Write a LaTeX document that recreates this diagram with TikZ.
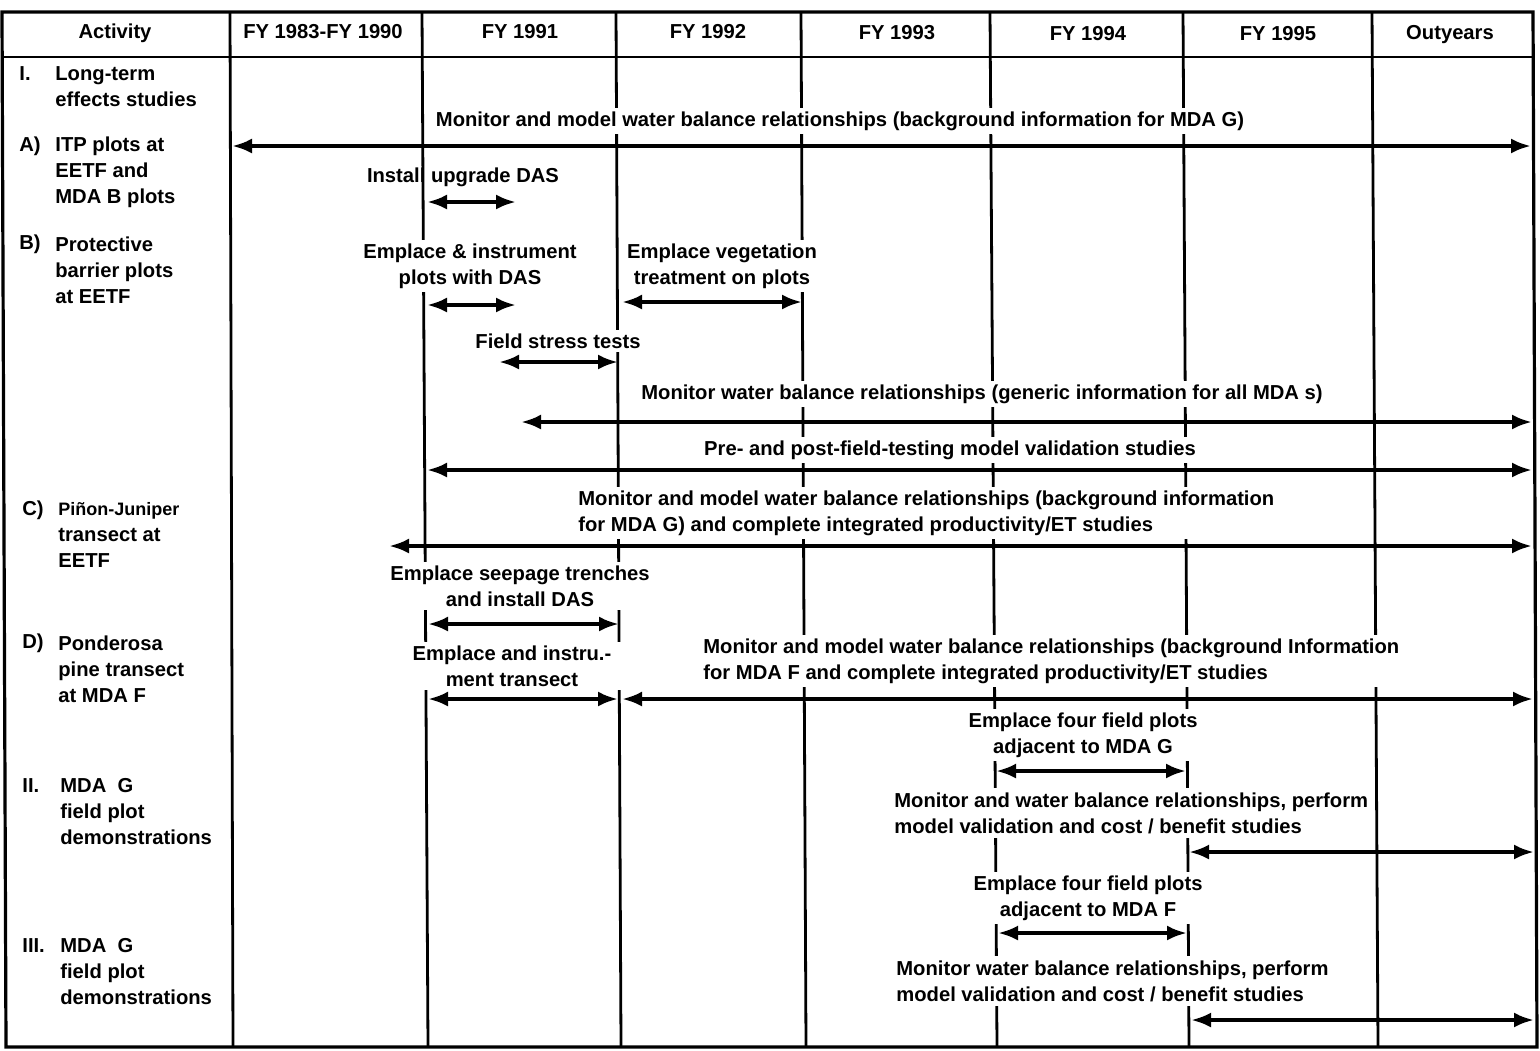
\documentclass[tikz,border=0pt]{standalone}
\usepackage{fontspec}
\newfontfamily\chartfont{Liberation Sans}
\usetikzlibrary{arrows.meta}
\tikzset{
  frame/.style ={line width=1.6pt},
  rule/.style  ={line width=1.4pt},
  act/.style   ={anchor=west, align=left, inner sep=0pt},
  lbl/.style   ={fill=white, inner sep=2pt, align=center},
  lbll/.style  ={fill=white, inner sep=2pt, align=left, anchor=west},
  span/.style  ={{Latex[length=10pt,width=7.5pt]}-{Latex[length=10pt,width=7.5pt]}, line width=1.9pt},
}
\begin{document}
\begin{tikzpicture}[x=0.5pt, y=-0.5pt, font=\chartfont\bfseries\fontsize{10.1}{13}\selectfont]
  \useasboundingbox (0,0) rectangle (1540,1050);

  % table frame and column rules
  \draw[frame] (2,12) -- (1533,12) -- (1537,1047) -- (6,1047) -- cycle;
  \draw[rule] (2,57) -- (1533,57);
  \foreach \xt/\xb in {230/233, 422/428, 616/621, 801/806, 990/997, 1183/1189, 1372/1378}
    \draw[rule] (\xt,12) -- (\xb,1047);

  % header row
  \node (h-act) at (115,33) {Activity};
  \node (h-8390) at (323,32) {FY 1983-FY 1990};
  \node (h-91) at (520,32) {FY 1991};
  \node (h-92) at (708,32) {FY 1992};
  \node (h-93) at (897,33) {FY 1993};
  \node (h-94) at (1088,34) {FY 1994};
  \node (h-95) at (1278,34) {FY 1995};
  \node (h-out) at (1450,35) {Outyears};

  % activity column
  \node[act] (n-I) at (19,74) {I.};
  \node[act] (a-I) at (55,87) {Long-term\\effects studies};
  \node[act] (n-A) at (19,146) {A)};
  \node[act] (a-A) at (55,172) {ITP plots at\\EETF and\\MDA B plots};
  \node[act] (n-B) at (19,244) {B)};
  \node[act] (a-B) at (55,270) {Protective\\barrier plots\\at EETF};
  \node[act] (n-C) at (22,510) {C)};
  \node[act] (a-C) at (58,535) {{\fontsize{9}{13}\selectfont Piñon-Juniper}\\transect at\\EETF};
  \node[act] (n-D) at (22,643) {D)};
  \node[act] (a-D) at (58,669) {Ponderosa\\pine transect\\at MDA F};
  \node[act] (n-II) at (22,786) {II.};
  \node[act] (a-II) at (60,812) {MDA\ \ G\\field plot\\demonstrations};
  \node[act] (n-III) at (22,946) {III.};
  \node[act] (a-III) at (60,972) {MDA\ \ G\\field plot\\demonstrations};

  % schedule labels
  \node[lbl] (wbA) at (840,121) {Monitor and model water balance relationships (background information for MDA G)};
  \node[inner sep=2pt] (das) at (463,177) {Install upgrade DAS};
  \node[lbl] (emp) at (470,266) {Emplace \& instrument\\plots with DAS};
  \node[lbl] (veg) at (722,266) {Emplace vegetation\\treatment on plots};
  \node[lbl] (fst) at (558,341) {Field stress tests};
  \node[lbl] (wbB) at (982,394) {Monitor water balance relationships (generic information for all MDA s)};
  \node[lbl] (val) at (950,450) {Pre- and post-field-testing model validation studies};
  \node[lbll] (wbC) at (574,513) {Monitor and model water balance relationships (background information\\for MDA G) and complete integrated productivity/ET studies};
  \node[lbl] (see) at (520,586) {Emplace seepage trenches\\and install DAS};
  \node[lbl, minimum width=230] (tra) at (512,666) {Emplace and instru.-\\ment transect};
  \node[lbll] (wbD) at (699,661) {Monitor and model water balance relationships (background Information\\for MDA F and complete integrated productivity/ET studies};
  \node[lbl] (fpG) at (1083,735) {Emplace four field plots\\adjacent to MDA G};
  \node[lbll] (mvG) at (890,813) {Monitor and water balance relationships, perform\\model validation and cost / benefit studies};
  \node[lbl] (fpF) at (1088,898) {Emplace four field plots\\adjacent to MDA F};
  \node[lbll] (mvF) at (892,981) {Monitor water balance relationships, perform\\model validation and cost / benefit studies};

  % bar ends
  \coordinate (wbA-l) at (232,146);  \coordinate (wbA-r) at (1531,146);
  \coordinate (das-l) at (427,202);  \coordinate (das-r) at (516,202);
  \coordinate (emp-l) at (427,305);  \coordinate (emp-r) at (516,305);
  \coordinate (veg-l) at (622,302);  \coordinate (veg-r) at (802,302);
  \coordinate (fst-l) at (499,362);  \coordinate (fst-r) at (618,362);
  \coordinate (wbB-l) at (521,422);  \coordinate (wbB-r) at (1532,422);
  \coordinate (val-l) at (427,470);  \coordinate (val-r) at (1532,470);
  \coordinate (wbC-l) at (389,546);  \coordinate (wbC-r) at (1532,546);
  \coordinate (see-l) at (428,624);  \coordinate (see-r) at (619,624);
  \coordinate (tra-l) at (428,699);  \coordinate (tra-r) at (618,699);
  \coordinate (wbD-l) at (622,699);  \coordinate (wbD-r) at (1533,699);
  \coordinate (fpG-l) at (996,771);  \coordinate (fpG-r) at (1186,771);
  \coordinate (mvG-l) at (1189,852); \coordinate (mvG-r) at (1534,852);
  \coordinate (fpF-l) at (998,933);  \coordinate (fpF-r) at (1187,933);
  \coordinate (mvF-l) at (1191,1020); \coordinate (mvF-r) at (1534,1020);

  % bars
  \draw[span] (wbA-l) -- (wbA-r);
  \draw[span] (das-l) -- (das-r);
  \draw[span] (emp-l) -- (emp-r);
  \draw[span] (veg-l) -- (veg-r);
  \draw[span] (fst-l) -- (fst-r);
  \draw[span] (wbB-l) -- (wbB-r);
  \draw[span] (val-l) -- (val-r);
  \draw[span] (wbC-l) -- (wbC-r);
  \draw[span] (see-l) -- (see-r);
  \draw[span] (tra-l) -- (tra-r);
  \draw[span] (wbD-l) -- (wbD-r);
  \draw[span] (fpG-l) -- (fpG-r);
  \draw[span] (mvG-l) -- (mvG-r);
  \draw[span] (fpF-l) -- (fpF-r);
  \draw[span] (mvF-l) -- (mvF-r);
\end{tikzpicture}
\end{document}
